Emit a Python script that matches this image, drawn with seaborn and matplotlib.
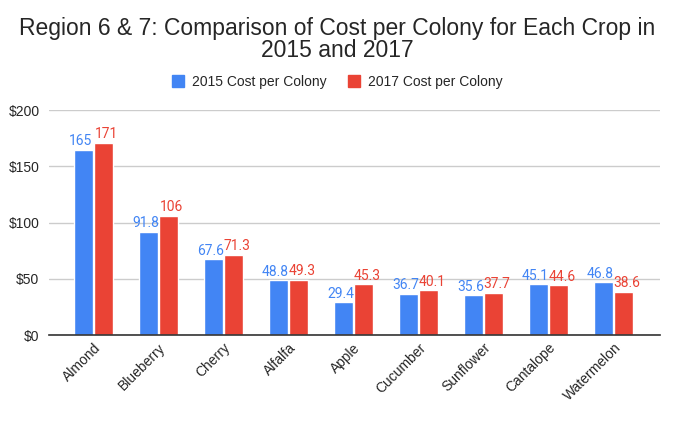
import numpy as np
import pandas as pd
import matplotlib
matplotlib.use("Agg")
import matplotlib.pyplot as plt
import seaborn as sns
from matplotlib.lines import Line2D

crops = ["Almond", "Blueberry", "Cherry", "Alfalfa", "Apple",
         "Cucumber", "Sunflower", "Cantalope", "Watermelon"]
cost_2015 = [165, 91.8, 67.6, 48.8, 29.4, 36.7, 35.6, 45.1, 46.8]
cost_2017 = [171, 106, 71.3, 49.3, 45.3, 40.1, 37.7, 44.6, 38.6]
series = ["2015 Cost per Colony", "2017 Cost per Colony"]
colors = ["#4285F4", "#EA4335"]

df = pd.DataFrame({
    "Crop": crops * 2,
    "Cost": cost_2015 + cost_2017,
    "Series": [series[0]] * len(crops) + [series[1]] * len(crops),
})

sns.set_theme(style="white")
plt.rcParams["font.family"] = ["Liberation Sans", "DejaVu Sans"]

fig = plt.figure(figsize=(6.74, 4.22), dpi=100)
ax = fig.add_axes([0.073, 0.206, 0.906, 0.533])

sns.barplot(data=df, x="Crop", y="Cost", hue="Series", palette=colors,
            width=0.62, gap=0.08, ax=ax, legend=False, saturation=1)

# value labels, nudged apart a little like the sheets chart does
for cont, col, dx in zip(ax.containers, colors, [-2.2, 2.2]):
    for bar, v in zip(cont, cont.datavalues):
        ax.annotate(f"{v:g}", (bar.get_x() + bar.get_width() / 2, bar.get_height()),
                    xytext=(dx, 1), textcoords="offset points", ha="center",
                    va="bottom", color=col, fontsize=10,
                    family=["Roboto", "DejaVu Sans"])

ax.set_ylim(0, 200)
ax.set_xlim(-0.68, 8.71)
ax.set_yticks([0, 50, 100, 150, 200])
ax.set_yticklabels(["$0", "$50", "$100", "$150", "$200"], fontsize=10)
ax.yaxis.grid(True, color="#cccccc", linewidth=1)
ax.set_axisbelow(True)
ax.tick_params(axis="y", length=0, pad=7)
ax.tick_params(axis="x", length=0, pad=4)
plt.setp(ax.get_xticklabels(), rotation=45, ha="right", rotation_mode="anchor",
         fontsize=10)
for s in ["left", "right", "top"]:
    ax.spines[s].set_visible(False)
ax.spines["bottom"].set_color("#333333")
ax.spines["bottom"].set_linewidth(1.2)
ax.set_xlabel("")
ax.set_ylabel("")

fig.suptitle("Region 6 & 7: Comparison of Cost per Colony for Each Crop in\n2015 and 2017",
             y=0.96, fontsize=16.5, linespacing=0.95)

handles = [Line2D([], [], marker="s", linestyle="", markersize=9,
                  markerfacecolor=c, markeredgecolor=c) for c in colors]
fig.legend(handles, series, loc="center", bbox_to_anchor=(0.5, 0.805), ncol=2,
           frameon=False, fontsize=10, handletextpad=0.5, columnspacing=1.5,
           handlelength=1.0)

fig.savefig("out.png", dpi=100)
